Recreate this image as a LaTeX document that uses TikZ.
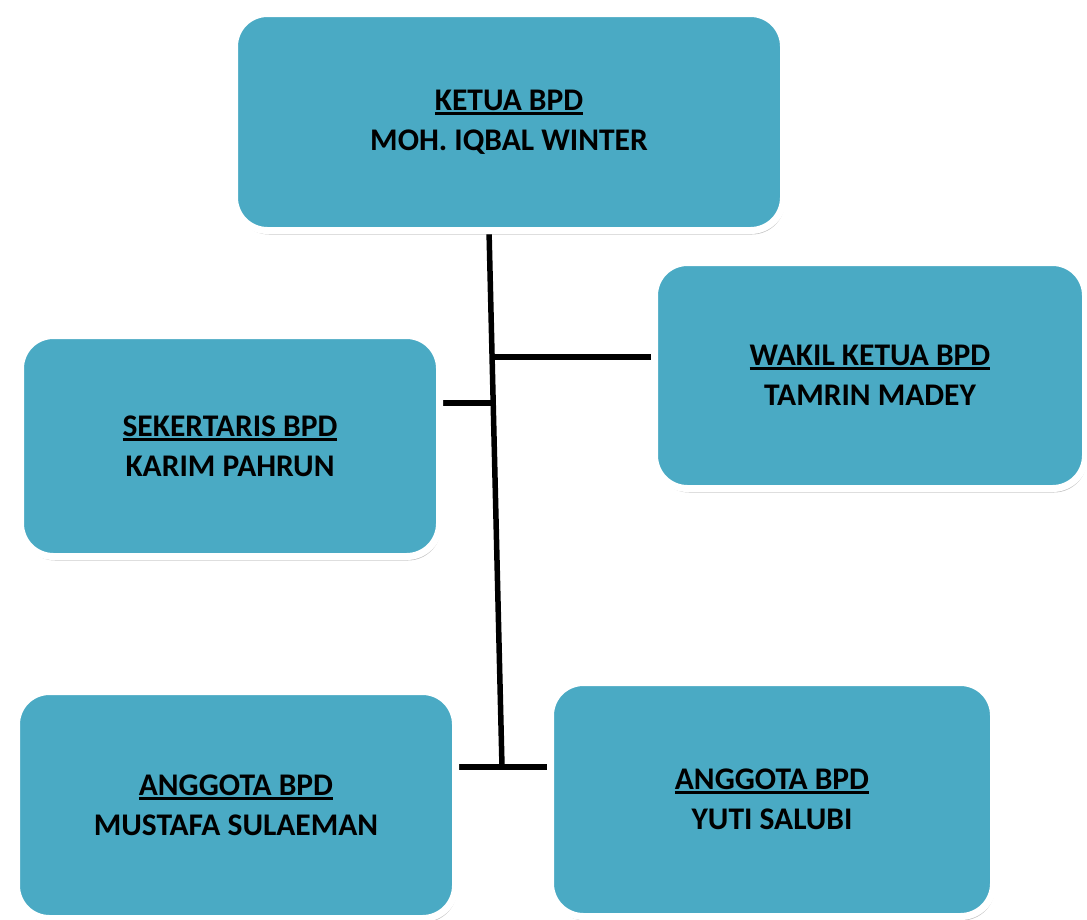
\documentclass[tikz,border=0pt]{standalone}
\usepackage{fontspec}
\setmainfont{Carlito}
\usetikzlibrary{shadows,backgrounds}
\definecolor{boxteal}{RGB}{74,170,196}
\newcommand{\ulbox}[1]{\setbox0\hbox{#1}\rlap{\raisebox{-4.5pt}{\rule{\wd0}{3pt}}}\box0}
\tikzset{
  orgbox/.style={rectangle, rounded corners=33pt, fill=boxteal, draw=white,
    line width=7pt, align=center, inner sep=0pt,
    font=\fontsize{31.5}{40}\selectfont\bfseries,
    drop shadow={opacity=0.45, fill=black!50, shadow xshift=1.5pt, shadow yshift=-4pt}},
  link/.style={line width=5.5pt, black}
}
\begin{document}
\begin{tikzpicture}[x=1pt,y=-1pt]
\useasboundingbox (0,0) rectangle (1087,919);
\node[orgbox, minimum width=549pt, minimum height=217pt] (ketua) at (509,122)
  {\ulbox{KETUA BPD}\\MOH. IQBAL WINTER};
\node[orgbox, minimum width=431pt, minimum height=226pt] (wakil) at (870,375.5)
  {\ulbox{WAKIL KETUA BPD}\\TAMRIN MADEY};
\node[orgbox, minimum width=419pt, minimum height=221pt] (sek) at (230,446)
  {\ulbox{SEKERTARIS BPD}\\KARIM PAHRUN};
\node[orgbox, minimum width=439pt, minimum height=227pt] (ang1) at (236,805)
  {\ulbox{ANGGOTA BPD}\\MUSTAFA SULAEMAN};
\node[orgbox, minimum width=443pt, minimum height=234pt] (ang2) at (772,799.5)
  {\ulbox{ANGGOTA BPD}\\YUTI SALUBI};
\coordinate (vtop) at (489,230);
\coordinate (jR) at (492,357);
\coordinate (jL) at (494,403);
\coordinate (jB) at (502,767);
\begin{pgfonlayer}{background}
\draw[link] (vtop) -- (jB);
\draw[link] (jR) -- (wakil.west |- jR);
\draw[link] (sek.east |- jL) -- (jL);
\draw[link] (ang1.east |- jB) -- (ang2.west |- jB);
\end{pgfonlayer}
\end{tikzpicture}
\end{document}
